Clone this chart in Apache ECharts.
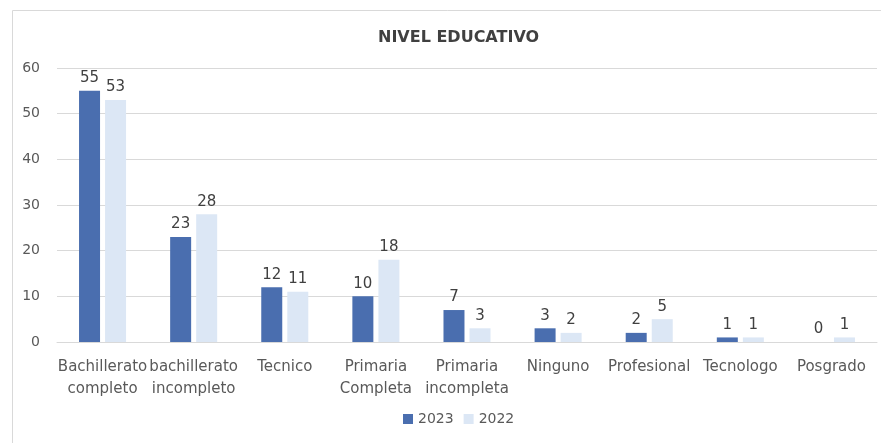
<!DOCTYPE html>
<html>
<head>
<meta charset="utf-8">
<script src="https://cdn.jsdelivr.net/npm/echarts@6/dist/echarts.min.js"></script>
<style>
  html, body { margin: 0; padding: 0; background: #fff; }
  #chart { width: 881px; height: 443px; }
</style>
</head>
<body>
<div id="chart"></div>
<script>
const categories = ['Bachillerato completo', 'bachillerato incompleto', 'Tecnico', 'Primaria Completa', 'Primaria incompleta', 'Ninguno', 'Profesional', 'Tecnologo', 'Posgrado']
const values2023 = [55, 23, 12, 10, 7, 3, 2, 1, 0]
const values2022 = [53, 28, 11, 18, 3, 2, 5, 1, 1]
const yTicks = [0, 10, 20, 30, 40, 50, 60]

const font = '"DejaVu Sans", sans-serif'
const chart = echarts.init(document.getElementById('chart'))

const labelStyle = {
  show: true,
  position: 'top',
  distance: 5,
  color: '#404040',
  fontSize: 15,
  fontFamily: font,
}

chart.setOption({
  animation: false,
  textStyle: { fontFamily: font },
  title: {
    text: 'NIVEL EDUCATIVO',
    left: 373,
    top: 25,
    textStyle: { color: '#404040', fontSize: 16, fontWeight: 'bold', fontFamily: font },
  },
  graphic: [{
    type: 'rect',
    shape: { x: 12.5, y: 10.5, width: 900, height: 500 },
    style: { fill: 'none', stroke: '#d9d9d9', lineWidth: 1 },
    silent: true,
  }],
  legend: {
    bottom: 12,
    left: 398,
    itemWidth: 10,
    itemHeight: 10,
    itemGap: 10,
    icon: 'rect',
    textStyle: { color: '#595959', fontSize: 14, fontFamily: font },
    data: ['2023', '2022'],
  },
  grid: { left: 57, right: 4, top: 68, bottom: 101 },
  xAxis: {
    type: 'category',
    data: categories,
    axisLine: { lineStyle: { color: '#d9d9d9', width: 1 } },
    axisTick: { show: false },
    axisLabel: {
      color: '#595959',
      fontSize: 15,
      lineHeight: 22,
      margin: 14,
      interval: 0,
      formatter: (v) => v.replace(' ', '\n'),
    },
  },
  yAxis: {
    type: 'value',
    min: yTicks[0],
    max: yTicks[yTicks.length - 1],
    interval: 10,
    axisLine: { show: false },
    axisTick: { show: false },
    axisLabel: { color: '#595959', fontSize: 14, margin: 17 },
    splitLine: { lineStyle: { color: '#d9d9d9', width: 1 } },
  },
  series: [
    {
      name: '2023',
      type: 'bar',
      data: values2023,
      barWidth: 21,
      barGap: '24%',
      itemStyle: { color: '#4a6eaf' },
      label: labelStyle,
    },
    {
      name: '2022',
      type: 'bar',
      data: values2022,
      barWidth: 21,
      itemStyle: { color: '#dce7f5' },
      label: labelStyle,
    },
  ],
})
</script>
</body>
</html>
